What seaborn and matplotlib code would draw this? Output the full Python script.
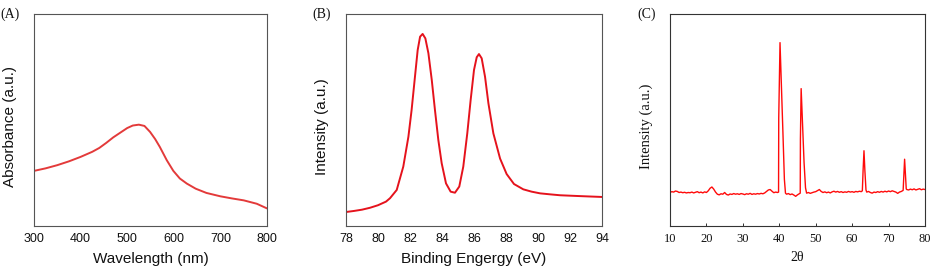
import matplotlib
matplotlib.use("Agg")
import matplotlib.pyplot as plt
import pandas as pd
import seaborn as sns

# ---------------- data ----------------
wavelength_nm = [300, 325, 350, 375, 400, 425, 440, 455, 470, 485, 500, 512, 525,
                 537, 549, 560, 570, 585, 599, 613, 628, 647, 670, 700, 725, 750,
                 778, 800]
absorbance = [0.260, 0.272, 0.287, 0.305, 0.326, 0.350, 0.368, 0.392, 0.418, 0.440,
              0.462, 0.474, 0.478, 0.472, 0.444, 0.410, 0.373, 0.310, 0.260, 0.224,
              0.200, 0.176, 0.156, 0.140, 0.130, 0.121, 0.105, 0.083]

binding_energy_ev = [78.0, 78.5, 79.0, 79.5, 80.0, 80.5, 80.75, 81.17, 81.58, 81.9,
                     82.1, 82.31, 82.48, 82.63, 82.79, 82.96, 83.15, 83.36, 83.56,
                     83.77, 83.98, 84.25, 84.54, 84.81, 85.08, 85.33, 85.58, 85.79,
                     86.0, 86.17, 86.31, 86.48, 86.69, 86.9, 87.21, 87.63, 88.04,
                     88.5, 89.08, 89.6, 90.13, 90.8, 91.38, 92.0, 92.63, 93.3, 94.0]
xps_intensity = [0.066, 0.071, 0.077, 0.086, 0.098, 0.115, 0.131, 0.170, 0.280, 0.421,
                 0.547, 0.704, 0.830, 0.893, 0.906, 0.885, 0.815, 0.689, 0.547,
                 0.406, 0.296, 0.201, 0.162, 0.157, 0.186, 0.280, 0.437, 0.594,
                 0.736, 0.796, 0.811, 0.791, 0.704, 0.579, 0.437, 0.318, 0.245,
                 0.198, 0.173, 0.162, 0.154, 0.149, 0.145, 0.143, 0.141, 0.139, 0.137]

two_theta = [10.0, 10.5, 11.0, 11.5, 12.0, 12.5, 13.0, 13.5, 14.0, 14.5, 15.0, 15.5,
             16.0, 16.5, 17.0, 17.5, 18.0, 18.5, 19.0, 19.5, 20.0, 20.5, 21.0, 21.5,
             22.0, 22.5, 23.0, 23.5, 24.0, 24.5, 25.0, 25.5, 26.0, 26.5, 27.0, 27.5,
             28.0, 28.5, 29.0, 29.5, 30.0, 30.5, 31.0, 31.5, 32.0, 32.5, 33.0, 33.5,
             34.0, 34.5, 35.0, 35.5, 36.0, 36.5, 37.0, 37.5, 38.0, 38.5, 39.0, 39.5,
             39.8, 39.85, 40.2, 40.6, 41.0, 41.4, 41.7, 42.0, 42.5, 43.0, 43.5, 44.0,
             44.5, 45.0, 45.5, 45.75, 45.8, 46.0, 46.4, 46.8, 47.2, 47.5, 48.0, 48.5,
             49.0, 49.5, 50.0, 50.5, 51.0, 51.5, 52.0, 52.5, 53.0, 53.5, 54.0, 54.5,
             55.0, 55.5, 56.0, 56.5, 57.0, 57.5, 58.0, 58.5, 59.0, 59.5, 60.0, 60.5,
             61.0, 61.5, 62.0, 62.5, 62.8, 63.0, 63.25, 63.5, 63.8, 64.0, 64.5, 65.0,
             65.5, 66.0, 66.5, 67.0, 67.5, 68.0, 68.5, 69.0, 69.5, 70.0, 70.5, 71.0,
             71.5, 72.0, 72.5, 73.0, 73.5, 74.0, 74.2, 74.4, 74.6, 74.85, 75.0, 75.5,
             76.0, 76.5, 77.0, 77.5, 78.0, 78.5, 79.0, 79.5, 80.0]
xrd_intensity = [0.158, 0.162, 0.160, 0.165, 0.163, 0.158, 0.160, 0.157, 0.159, 0.156,
                 0.158, 0.157, 0.160, 0.156, 0.159, 0.162, 0.157, 0.160, 0.156, 0.161,
                 0.158, 0.166, 0.178, 0.184, 0.174, 0.160, 0.150, 0.147, 0.152, 0.150,
                 0.158, 0.149, 0.146, 0.151, 0.149, 0.153, 0.150, 0.152, 0.149, 0.153,
                 0.151, 0.148, 0.152, 0.150, 0.154, 0.149, 0.152, 0.150, 0.153, 0.151,
                 0.154, 0.152, 0.156, 0.163, 0.170, 0.172, 0.164, 0.157, 0.160, 0.158,
                 0.160, 0.510, 0.865, 0.660, 0.440, 0.220, 0.155, 0.150, 0.153, 0.148,
                 0.151, 0.146, 0.140, 0.147, 0.152, 0.155, 0.410, 0.648, 0.470, 0.300,
                 0.180, 0.155, 0.158, 0.154, 0.157, 0.160, 0.162, 0.167, 0.172, 0.163,
                 0.158, 0.161, 0.157, 0.160, 0.156, 0.161, 0.164, 0.160, 0.163, 0.159,
                 0.162, 0.158, 0.161, 0.159, 0.163, 0.160, 0.162, 0.159, 0.163, 0.161,
                 0.164, 0.162, 0.166, 0.260, 0.355, 0.260, 0.170, 0.160, 0.163, 0.158,
                 0.155, 0.160, 0.158, 0.162, 0.159, 0.163, 0.160, 0.164, 0.161, 0.165,
                 0.162, 0.166, 0.163, 0.160, 0.154, 0.160, 0.163, 0.168, 0.240, 0.315,
                 0.250, 0.175, 0.172, 0.170, 0.174, 0.171, 0.175, 0.170, 0.173, 0.176,
                 0.171, 0.174, 0.172]

ticks_A = [300, 400, 500, 600, 700, 800]
ticks_B = [78, 80, 82, 84, 86, 88, 90, 92, 94]
ticks_C = [10, 20, 30, 40, 50, 60, 70, 80]

# ---------------- style ----------------
sns.set_theme(style="white")
plt.rcParams["font.family"] = ["Liberation Sans", "DejaVu Sans"]
SERIF = ["Liberation Serif", "DejaVu Serif"]

fig = plt.figure(figsize=(9.3, 2.66), dpi=100)
W, H = 930.0, 266.0


def make_axes(left, right, top=14, bottom=226):
    return fig.add_axes([left / W, 1 - bottom / H, (right - left) / W, (bottom - top) / H])


def style_axes(ax, spine_color):
    for s in ax.spines.values():
        s.set_visible(True)
        s.set_color(spine_color)
        s.set_linewidth(0.8)
    ax.set_yticks([])
    ax.set_ylim(0, 1)


axA = make_axes(34, 267)
axB = make_axes(346, 602)
axC = make_axes(670, 925)

dfA = pd.DataFrame({"x": wavelength_nm, "y": absorbance})
dfB = pd.DataFrame({"x": binding_energy_ev, "y": xps_intensity})
dfC = pd.DataFrame({"x": two_theta, "y": xrd_intensity})

sns.lineplot(data=dfA, x="x", y="y", ax=axA, color="#e33a3a", linewidth=1.4, sort=False)
sns.lineplot(data=dfB, x="x", y="y", ax=axB, color="#e5121c", linewidth=1.4, sort=False)
sns.lineplot(data=dfC, x="x", y="y", ax=axC, color="#ff0a0a", linewidth=1.0, sort=False)

# Panel A
style_axes(axA, "#555555")
axA.set_xlim(300, 800)
axA.set_xticks(ticks_A)
axA.tick_params(axis="x", length=0, pad=5, labelsize=9, colors="#111111")
axA.set_xlabel("Wavelength (nm)", fontsize=11, color="#111111")
axA.set_ylabel("Absorbance (a.u.)", fontsize=11, color="#111111")
axA.xaxis.set_label_coords(0.5, -0.125)
axA.yaxis.set_label_coords(-17 / 233, 0.47)

# Panel B
style_axes(axB, "#555555")
axB.set_xlim(78, 94)
axB.set_xticks(ticks_B)
axB.tick_params(axis="x", length=0, pad=5, labelsize=9, colors="#111111")
axB.set_xlabel("Binding Engergy (eV)", fontsize=11, color="#111111")
axB.set_ylabel("Intensity (a.u.)", fontsize=11, color="#111111")
axB.xaxis.set_label_coords(0.5, -0.125)
axB.yaxis.set_label_coords(-17 / 256, 0.47)

# Panel C
style_axes(axC, "#333333")
axC.set_xlim(10, 80)
axC.set_xticks(ticks_C)
axC.tick_params(axis="x", direction="in", length=2.5, width=0.6, pad=5,
                labelsize=9, colors="#111111", bottom=True)
for lab in axC.get_xticklabels():
    lab.set_family(SERIF)
axC.set_xlabel("2θ", fontsize=10, family=SERIF, color="#111111")
axC.set_ylabel("Intensity (a.u.)", fontsize=10.5, family=SERIF, color="#111111")
axC.xaxis.set_label_coords(0.5, -0.12)
axC.yaxis.set_label_coords(-17 / 255, 0.47)

# Panel letters
for xpx, letter in [(0, "(A)"), (312, "(B)"), (637, "(C)")]:
    fig.text(xpx / W, 1 - 14 / H, letter, family=SERIF, fontsize=10,
             ha="left", va="center", color="#111111")

fig.savefig("out.png", dpi=100)
